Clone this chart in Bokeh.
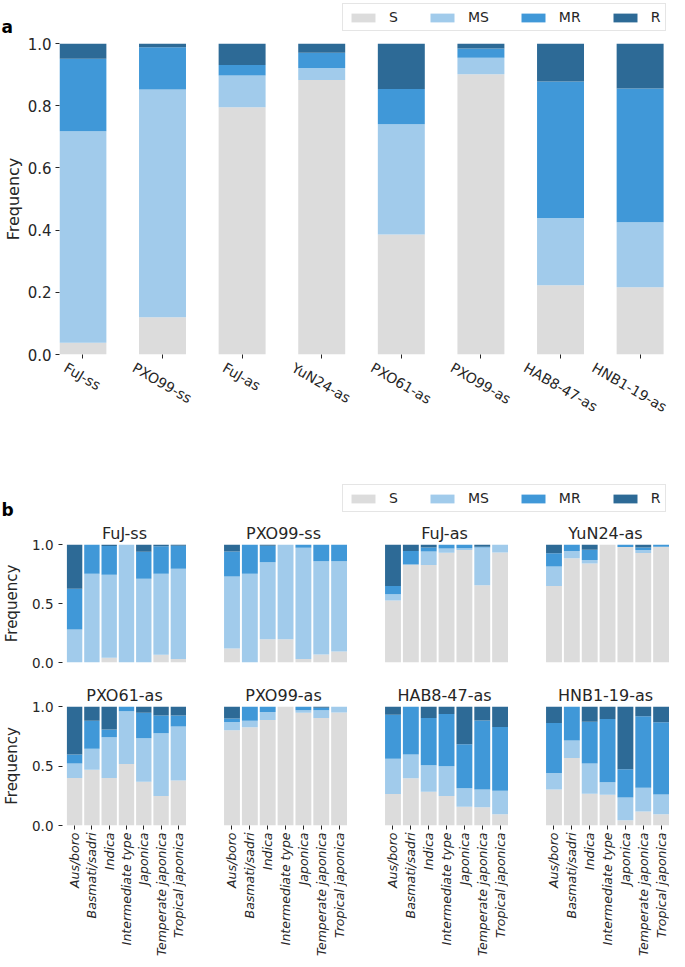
import math
from bokeh.plotting import figure
from bokeh.layouts import column, row
from bokeh.models import Range1d, FixedTicker, Legend, LegendItem, Label, ColumnDataSource
from bokeh.embed import file_html
from bokeh.resources import INLINE

# ---------------- data ----------------
CLASSES = ["S", "MS", "MR", "R"]
COLORS = ["#dcdcdc", "#a1cbeb", "#4098d8", "#2d6a96"]

STRAINS = ["FuJ-ss", "PXO99-ss", "FuJ-as", "YuN24-as",
           "PXO61-as", "PXO99-as", "HAB8-47-as", "HNB1-19-as"]

# panel a: frequency of each class per strain
A_S = [0.038, 0.120, 0.795, 0.883, 0.386, 0.901, 0.223, 0.216]
A_MS = [0.680, 0.732, 0.102, 0.038, 0.354, 0.053, 0.216, 0.209]
A_MR = [0.233, 0.136, 0.034, 0.049, 0.114, 0.030, 0.439, 0.430]
A_R = [0.049, 0.012, 0.069, 0.030, 0.146, 0.016, 0.122, 0.145]

GROUPS = ["Aus/boro", "Basmati/sadri", "Indica", "Intermediate type",
          "Japonica", "Temperate japonica", "Tropical japonica"]

# panel b: one row per strain (same order as STRAINS), one value per group
B_S = [
    [0.000, 0.000, 0.040, 0.000, 0.000, 0.066, 0.030],
    [0.119, 0.000, 0.197, 0.197, 0.030, 0.068, 0.093],
    [0.526, 0.830, 0.827, 0.930, 0.953, 0.654, 0.933],
    [0.649, 0.883, 0.838, 1.000, 0.978, 0.927, 0.980],
    [0.400, 0.469, 0.400, 0.517, 0.367, 0.247, 0.378],
    [0.800, 0.825, 0.886, 1.000, 0.947, 0.903, 0.950],
    [0.264, 0.397, 0.283, 0.247, 0.158, 0.153, 0.094],
    [0.303, 0.567, 0.267, 0.258, 0.044, 0.117, 0.094],
]
B_MS = [
    [0.280, 0.752, 0.704, 1.000, 0.710, 0.686, 0.764],
    [0.610, 0.752, 0.652, 0.803, 0.942, 0.790, 0.765],
    [0.053, 0.000, 0.114, 0.037, 0.016, 0.321, 0.067],
    [0.164, 0.061, 0.031, 0.000, 0.000, 0.026, 0.000],
    [0.122, 0.175, 0.342, 0.444, 0.366, 0.528, 0.453],
    [0.069, 0.056, 0.067, 0.000, 0.022, 0.066, 0.050],
    [0.297, 0.200, 0.223, 0.250, 0.156, 0.150, 0.198],
    [0.139, 0.147, 0.255, 0.106, 0.192, 0.200, 0.167],
]
B_MR = [
    [0.346, 0.248, 0.244, 0.000, 0.229, 0.234, 0.195],
    [0.212, 0.248, 0.140, 0.000, 0.028, 0.142, 0.142],
    [0.069, 0.114, 0.034, 0.033, 0.031, 0.005, 0.000],
    [0.112, 0.056, 0.086, 0.000, 0.022, 0.022, 0.020],
    [0.075, 0.237, 0.064, 0.039, 0.214, 0.150, 0.094],
    [0.031, 0.119, 0.047, 0.000, 0.031, 0.021, 0.000],
    [0.370, 0.403, 0.397, 0.439, 0.369, 0.580, 0.536],
    [0.419, 0.286, 0.350, 0.530, 0.236, 0.602, 0.606],
]
B_R = [
    [0.374, 0.000, 0.012, 0.000, 0.061, 0.014, 0.011],
    [0.059, 0.000, 0.011, 0.000, 0.000, 0.000, 0.000],
    [0.352, 0.056, 0.025, 0.000, 0.000, 0.020, 0.000],
    [0.075, 0.000, 0.045, 0.000, 0.000, 0.025, 0.000],
    [0.403, 0.119, 0.194, 0.000, 0.053, 0.075, 0.075],
    [0.100, 0.000, 0.000, 0.000, 0.000, 0.010, 0.000],
    [0.069, 0.000, 0.097, 0.064, 0.317, 0.117, 0.172],
    [0.139, 0.000, 0.128, 0.106, 0.528, 0.081, 0.133],
]

# ---------------- style helpers ----------------
FONT = "DejaVu Sans"
TXT = "#262626"
W = 669

# approximate DejaVu Sans advance widths (em) used to centre rotated tick labels
CHAR_W = {"F": .575, "u": .634, "J": .295, "-": .361, "s": .521, "P": .603, "X": .685,
          "O": .787, "a": .613, "Y": .611, "N": .748, "H": .752, "A": .684, "B": .686}


def text_em(t):
    return sum(CHAR_W.get(ch, .636) for ch in t)


def style(p):
    p.outline_line_color = None
    p.xgrid.grid_line_color = None
    p.ygrid.grid_line_color = None
    p.background_fill_color = "white"
    p.border_fill_color = "white"
    for ax in p.xaxis + p.yaxis:
        ax.axis_line_color = None
        ax.major_tick_line_color = TXT
        ax.major_tick_in = 0
        ax.major_tick_out = 4
        ax.minor_tick_line_color = None
        ax.major_label_text_font = FONT
        ax.major_label_text_color = TXT
        ax.axis_label_text_font = FONT
        ax.axis_label_text_color = TXT
        ax.axis_label_text_font_style = "normal"


src_a = ColumnDataSource(dict(x=list(range(len(STRAINS))), S=A_S, MS=A_MS, MR=A_MR, R=A_R))


def header(h):
    # strip holding a legend and a panel letter; the legend swatches come from
    # stacked bars of panel a's data, which lie outside this strip's y range
    p = figure(width=W, height=h, x_range=Range1d(0, W), y_range=Range1d(10 * h, 11 * h),
               x_axis_type=None, y_axis_type=None, toolbar_location=None,
               output_backend="svg", min_border=0)
    p.outline_line_color = None
    p.background_fill_color = "white"
    p.border_fill_color = "white"
    rs = p.vbar_stack(CLASSES, x="x", width=1, fill_color=COLORS, line_color=None, source=src_a)
    return p, rs


def make_legend(renderers, loc):
    lg = Legend(items=[LegendItem(label=c, renderers=[r]) for c, r in zip(CLASSES, renderers)],
                orientation="horizontal", location=loc)
    lg.label_text_font = FONT
    lg.label_text_font_size = "14px"
    lg.label_text_color = TXT
    lg.glyph_width = 30
    lg.glyph_height = 11
    lg.label_standoff = 11
    lg.label_width = 0
    lg.spacing = 29
    lg.padding = 5
    lg.margin = 0
    lg.border_line_color = "#cccccc"
    lg.border_line_width = 1
    lg.background_fill_alpha = 1.0
    return lg


def panel_letter(p, h, txt):
    p.add_layout(Label(x=1, y=10 * h + 1, text=txt, text_font=FONT, text_font_style="bold",
                       text_font_size="17px", text_color="black",
                       text_align="left", text_baseline="bottom"))


# ---------------- header a (legend + letter) ----------------
HA = 37
ha, rs_a = header(HA)
ha.add_layout(make_legend(rs_a, (342, 6)))
panel_letter(ha, HA, "a")

# ---------------- panel a ----------------
XA0, XA1 = -0.294, 7.369
A_TOP, A_FRAME, A_H = 6, 311, 443
pa = figure(width=W, height=A_H, x_range=Range1d(XA0, XA1), y_range=Range1d(0, 1),
            output_backend="svg", toolbar_location=None,
            min_border_left=56, min_border_right=0, min_border_top=A_TOP,
            min_border_bottom=A_H - A_TOP - A_FRAME)
pa.vbar_stack(CLASSES, x="x", width=0.59, fill_color=COLORS, line_color=None, source=src_a)
style(pa)
pa.yaxis.ticker = FixedTicker(ticks=[0, 0.2, 0.4, 0.6, 0.8, 1.0])
pa.yaxis.major_label_overrides = {0: "0.0", 0.2: "0.2", 0.4: "0.4", 0.6: "0.6", 0.8: "0.8", 1.0: "1.0"}
pa.yaxis.major_label_text_font_size = "15px"
pa.yaxis.major_label_standoff = 4
pa.yaxis.axis_label = "Frequency"
pa.yaxis.axis_label_text_font_size = "16px"
pa.yaxis.axis_label_standoff = 2

# rotated category labels, centred under their tick (tick marks drawn as minor ticks)
A_LABEL_PX = 14
px_per_unit = (W - 56) / (XA1 - XA0)
angle = math.pi / 6
label_pos = [round(i - text_em(s) * A_LABEL_PX * math.cos(angle) / 2 / px_per_unit, 4)
             for i, s in enumerate(STRAINS)]
pa.xaxis.ticker = FixedTicker(ticks=label_pos, minor_ticks=list(range(len(STRAINS))))
pa.xaxis.major_label_overrides = {pos: s for pos, s in zip(label_pos, STRAINS)}
pa.xaxis.major_label_orientation = -angle
pa.xaxis.major_label_text_font_size = f"{A_LABEL_PX}px"
pa.xaxis.major_tick_line_color = None
pa.xaxis.minor_tick_line_color = TXT
pa.xaxis.minor_tick_in = 0
pa.xaxis.minor_tick_out = 4
pa.xaxis.major_label_standoff = 8

# ---------------- header b (legend + letter) ----------------
HB = 40
hb, rs_b = header(HB)
hb.add_layout(make_legend(rs_b, (342, 8)))
panel_letter(hb, HB, "b")

# ---------------- panel b ----------------
XB0, XB1 = -0.7, 6.47
rows = [[], []]
for k, strain in enumerate(STRAINS):
    r, c = divmod(k, 4)
    top = 22 if r == 0 else 23
    bottom = 20 if r == 0 else 134
    left = 58 if c == 0 else 33
    p = figure(width=left + 128, height=top + 120 + bottom,
               x_range=Range1d(XB0, XB1), y_range=Range1d(0, 1), title=strain,
               output_backend="svg", toolbar_location=None,
               min_border_left=left, min_border_right=0, min_border_top=top, min_border_bottom=bottom)
    src = ColumnDataSource(dict(x=list(range(len(GROUPS))), S=B_S[k], MS=B_MS[k], MR=B_MR[k], R=B_R[k]))
    p.vbar_stack(CLASSES, x="x", width=0.89, fill_color=COLORS, line_color=None, source=src)
    style(p)
    p.title.text_font = FONT
    p.title.text_font_size = "16px"
    p.title.text_font_style = "normal"
    p.title.text_color = TXT
    p.title.align = "center"
    p.title.standoff = 3
    p.yaxis.ticker = FixedTicker(ticks=[0, 0.5, 1.0])
    p.yaxis.major_label_overrides = {0: "0.0", 0.5: "0.5", 1.0: "1.0"}
    p.yaxis.major_label_text_font_size = "13.5px"
    if c == 0:
        p.yaxis.axis_label = "Frequency"
        p.yaxis.axis_label_text_font_size = "15px"
        p.yaxis.axis_label_standoff = 8
    else:
        p.yaxis.visible = False
    if r == 0:
        p.xaxis.visible = False
    else:
        p.xaxis.ticker = FixedTicker(ticks=list(range(len(GROUPS))))
        p.xaxis.major_label_overrides = {i: g for i, g in enumerate(GROUPS)}
        p.xaxis.major_label_orientation = math.pi / 2
        p.xaxis.major_label_text_font_size = "12.5px"
        p.xaxis.major_label_text_font_style = "italic"
        p.xaxis.major_label_standoff = 3
    rows[r].append(p)

layout = column(row(ha), pa, row(hb), row(*rows[0]), row(*rows[1]))
open("out.html", "w").write(file_html(layout, INLINE))
